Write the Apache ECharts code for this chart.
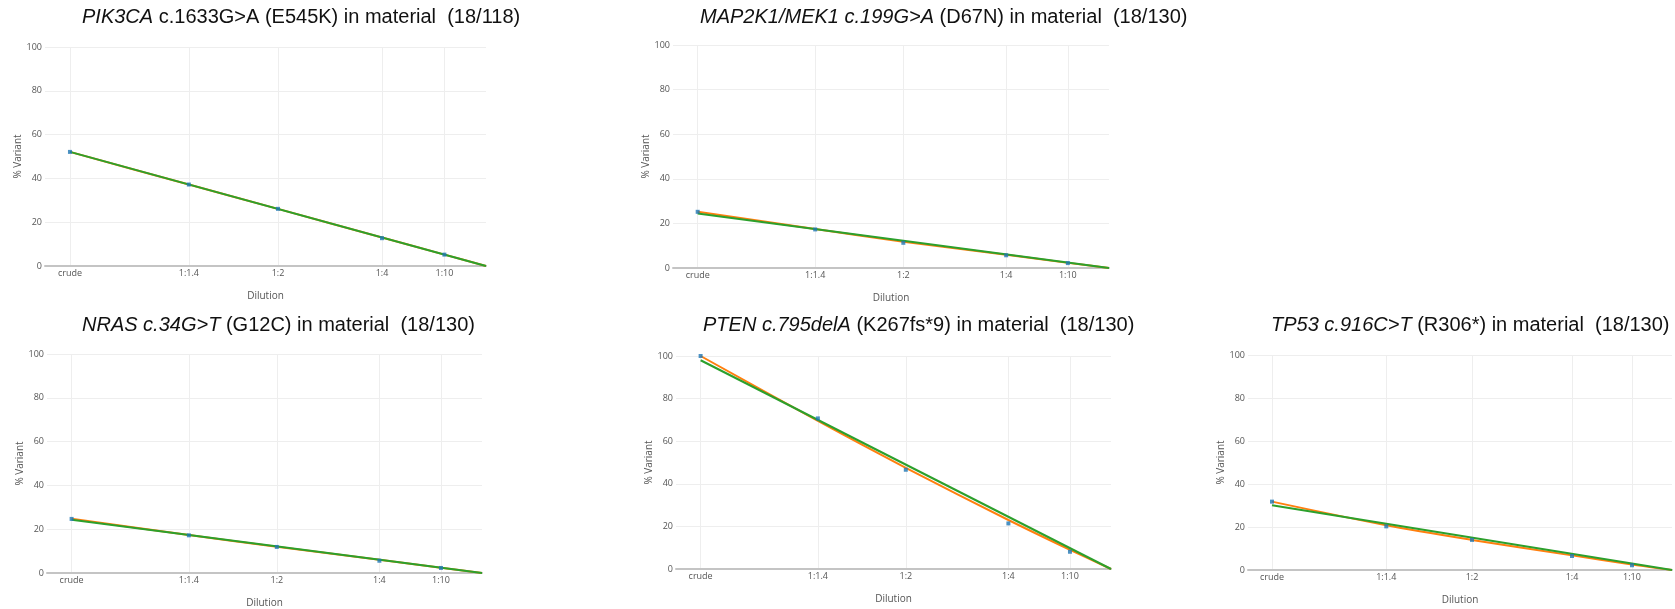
<!DOCTYPE html>
<html>
<head>
<meta charset="utf-8">
<script src="https://cdn.jsdelivr.net/npm/echarts@6/dist/echarts.min.js"></script>
<style>
html, body { margin: 0; padding: 0; background: #fff; }
#chart { width: 1675px; height: 609px; }
</style>
</head>
<body>
<div id="chart"></div>
<script>
var dilutionLabels = ['crude', '1:1.4', '1:2', '1:4', '1:10'];
var dilutionFactors = [1, 1.4, 2, 4, 10];

// panel titles: italic part + plain part
var titleItalic = ['PIK3CA', 'MAP2K1/MEK1 c.199G>A', 'NRAS c.34G>T', 'PTEN c.795delA', 'TP53 c.916C>T'];
var titlePlain = [' c.1633G>A (E545K) in material  (18/118)', ' (D67N) in material  (18/130)',
    ' (G12C) in material  (18/130)', ' (K267fs*9) in material  (18/130)', ' (R306*) in material  (18/130)'];

// measured % variant (blue points)
var measured = [
    [52.1, 37.2, 26.1, 12.7, 5.2],
    [25.2, 17.3, 11.3, 5.7, 2.2],
    [24.7, 17.2, 11.9, 5.6, 2.3],
    [100, 70.7, 46.6, 21.4, 8.1],
    [31.8, 20.3, 14.0, 6.5, 2.2]
];
// fitted curve (orange), ends at 0
var fitted = [
    [52.1, 37.2, 26.1, 13.0, 5.2],
    [25.2, 17.5, 11.8, 5.9, 2.3],
    [24.8, 17.3, 12.0, 6.0, 2.4],
    [100, 69.5, 47.5, 23.0, 9.0],
    [31.8, 20.8, 14.0, 6.8, 2.5]
];
// linear trend (green) value at crude, goes to 0
var trendCrude = [52.1, 24.4, 24.3, 98, 30.1];

var grids = [
    {left: 45, top: 47, width: 441, height: 219},
    {left: 673, top: 45, width: 436, height: 223},
    {left: 47, top: 354, width: 435, height: 219},
    {left: 676, top: 356, width: 435, height: 213},
    {left: 1248, top: 355, width: 424, height: 215}
];
var titlePos = [
    {left: 77, top: 2},
    {left: 695, top: 2},
    {left: 77, top: 310},
    {left: 698, top: 310},
    {left: 1266, top: 310}
];

var fractions = dilutionFactors.map(function (d) { return 1 / d; });

function labelFor(v) {
    for (var i = 0; i < fractions.length; i++) {
        if (Math.abs(fractions[i] - v) < 1e-6) return dilutionLabels[i];
    }
    return '';
}

var myChart = echarts.init(document.getElementById('chart'));
var option = {
    backgroundColor: '#fff',
    animation: false,
    title: [],
    grid: [],
    xAxis: [],
    yAxis: [],
    series: []
};

for (var p = 0; p < 5; p++) {
    option.title.push({
        left: titlePos[p].left,
        top: titlePos[p].top,
        text: '{i|' + titleItalic[p] + '}' + titlePlain[p],
        textStyle: {
            fontFamily: 'Liberation Sans',
            fontSize: 20,
            fontWeight: 'normal',
            color: '#111',
            rich: {
                i: {fontFamily: 'Liberation Sans', fontSize: 20, fontStyle: 'italic', color: '#111'}
            }
        }
    });
    option.grid.push(grids[p]);
    option.xAxis.push({
        gridIndex: p,
        type: 'value',
        inverse: true,
        min: 0,
        max: 1.06,
        name: 'Dilution',
        nameLocation: 'middle',
        nameGap: 25,
        nameTextStyle: {color: '#555', fontSize: 10, fontFamily: 'Open Sans'},
        axisLine: {show: true, lineStyle: {color: '#c4c4c4', width: 2}},
        axisTick: {show: false, customValues: fractions},
        axisLabel: {
            customValues: fractions,
            formatter: labelFor,
            color: '#555',
            fontSize: 9,
            fontFamily: 'Open Sans',
            margin: 3
        },
        splitLine: {show: true, lineStyle: {color: '#eeeeee', width: 1}}
    });
    option.yAxis.push({
        gridIndex: p,
        type: 'value',
        min: 0,
        max: 100,
        interval: 20,
        name: '% Variant',
        nameLocation: 'middle',
        nameGap: 21,
        nameTextStyle: {color: '#555', fontSize: 10, fontFamily: 'Open Sans'},
        axisLine: {show: false},
        axisTick: {show: false},
        axisLabel: {color: '#555', fontSize: 9, fontFamily: 'Open Sans', margin: 3},
        splitLine: {show: true, lineStyle: {color: '#eeeeee', width: 1}}
    });

    var fitData = fractions.map(function (f, i) { return [f, fitted[p][i]]; });
    fitData.push([0, 0]);
    option.series.push({
        type: 'line',
        xAxisIndex: p,
        yAxisIndex: p,
        data: fitData,
        smooth: 0.3,
        showSymbol: false,
        lineStyle: {color: '#ff7f0e', width: 2},
        z: 2
    });
    option.series.push({
        type: 'line',
        xAxisIndex: p,
        yAxisIndex: p,
        data: [[1, trendCrude[p]], [0, 0]],
        showSymbol: false,
        lineStyle: {color: '#2ca02c', width: 2},
        z: 3
    });
    option.series.push({
        type: 'scatter',
        xAxisIndex: p,
        yAxisIndex: p,
        data: fractions.map(function (f, i) { return [f, measured[p][i]]; }),
        symbol: 'rect',
        symbolSize: 4,
        itemStyle: {color: '#1f77b4'},
        z: 4
    });
}

myChart.setOption(option);
</script>
</body>
</html>
